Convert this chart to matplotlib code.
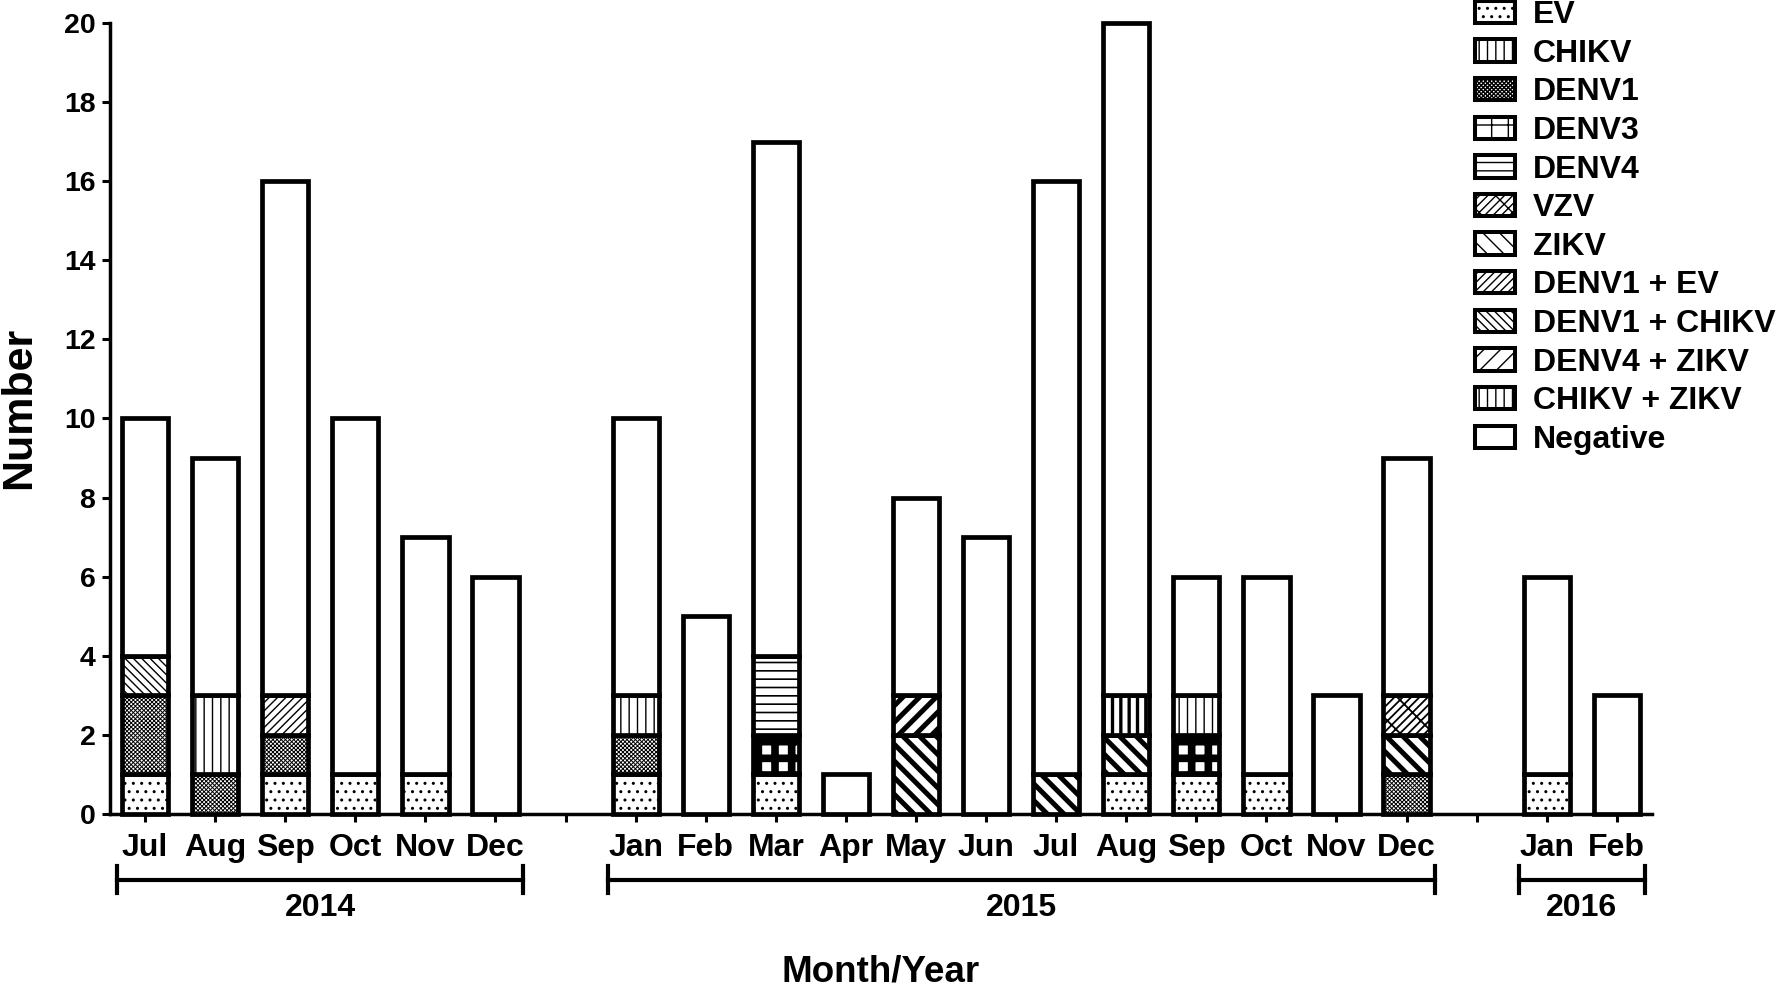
import numpy as np
import matplotlib
matplotlib.use('Agg')
import matplotlib.pyplot as plt
from matplotlib.patches import Patch

# month labels and the year each month belongs to
months = ['Jul', 'Aug', 'Sep', 'Oct', 'Nov', 'Dec',
	'Jan', 'Feb', 'Mar', 'Apr', 'May', 'Jun', 'Jul', 'Aug', 'Sep', 'Oct', 'Nov', 'Dec',
	'Jan', 'Feb']
years = [2014] * 6 + [2015] * 12 + [2016] * 2

# counts per month for every result (20 months)
ev          = [1, 0, 1, 1, 1, 0,  1, 0, 1, 0, 0, 0, 0, 1, 1, 1, 0, 0,  1, 0]
denv1       = [2, 1, 1, 0, 0, 0,  1, 0, 0, 0, 0, 0, 0, 0, 0, 0, 0, 1,  0, 0]
denv3       = [0, 0, 0, 0, 0, 0,  0, 0, 1, 0, 0, 0, 0, 0, 1, 0, 0, 0,  0, 0]
zikv        = [0, 0, 0, 0, 0, 0,  0, 0, 0, 0, 2, 0, 1, 1, 0, 0, 0, 1,  0, 0]
chikv       = [0, 2, 0, 0, 0, 0,  1, 0, 0, 0, 0, 0, 0, 0, 1, 0, 0, 0,  0, 0]
denv4       = [0, 0, 0, 0, 0, 0,  0, 0, 2, 0, 0, 0, 0, 0, 0, 0, 0, 0,  0, 0]
vzv         = [0, 0, 0, 0, 0, 0,  0, 0, 0, 0, 0, 0, 0, 0, 0, 0, 0, 1,  0, 0]
denv1_ev    = [0, 0, 1, 0, 0, 0,  0, 0, 0, 0, 0, 0, 0, 0, 0, 0, 0, 0,  0, 0]
denv1_chikv = [1, 0, 0, 0, 0, 0,  0, 0, 0, 0, 0, 0, 0, 0, 0, 0, 0, 0,  0, 0]
denv4_zikv  = [0, 0, 0, 0, 0, 0,  0, 0, 0, 0, 1, 0, 0, 0, 0, 0, 0, 0,  0, 0]
chikv_zikv  = [0, 0, 0, 0, 0, 0,  0, 0, 0, 0, 0, 0, 0, 1, 0, 0, 0, 0,  0, 0]
negative    = [6, 6, 13, 9, 6, 6,  7, 5, 13, 1, 5, 7, 15, 17, 3, 5, 3, 6,  5, 3]

legend_order = ['EV', 'CHIKV', 'DENV1', 'DENV3', 'DENV4', 'VZV', 'ZIKV',
	'DENV1 + EV', 'DENV1 + CHIKV', 'DENV4 + ZIKV', 'CHIKV + ZIKV', 'Negative']


def main():
	plt.rcParams['font.family'] = ['Liberation Sans', 'DejaVu Sans']
	plt.rcParams['font.weight'] = 'bold'

	# stacking order bottom -> top, with hatch and hatch line width
	# (diagonal hatches are half as dense as | and - for the same count)
	series = [
		('EV', ev, '..', 1.0),
		('DENV1', denv1, 'xxxxxxxx', 0.7),
		('DENV3', denv3, '+', 5.5),
		('ZIKV', zikv, '\\\\', 3.6),
		('CHIKV', chikv, '||', 1.0),
		('DENV4', denv4, '--', 1.2),
		('VZV', vzv, '////\\', 1.3),
		('DENV1 + EV', denv1_ev, '////', 1.0),
		('DENV1 + CHIKV', denv1_chikv, '\\\\\\\\', 1.0),
		('DENV4 + ZIKV', denv4_zikv, '//', 3.6),
		('CHIKV + ZIKV', chikv_zikv, '||', 2.4),
		('Negative', negative, '', 1.0),
	]

	# one empty slot between years
	x = np.arange(len(months)) + (np.array(years) - 2014)

	fig = plt.figure(figsize=(17.8, 9.91), dpi=100)
	ax = fig.add_axes([0.0618, 0.1786, 0.928 - 0.0618, 0.9768 - 0.1786])

	bottom = np.zeros(len(months))
	handles = {}
	for name, vals, hatch, hlw in series:
		vals = np.array(vals, dtype=float)
		keep = vals > 0
		with plt.rc_context({'hatch.linewidth': hlw}):
			bars = ax.bar(x[keep], vals[keep], bottom=bottom[keep], width=0.66,
				color='white', edgecolor='black', linewidth=3.4, hatch=hatch,
				clip_on=False, zorder=3)
			for b in bars:
				if hasattr(b, 'set_hatch_linewidth'):
					b.set_hatch_linewidth(hlw)
			h = Patch(facecolor='white', edgecolor='black', linewidth=2.9, hatch=hatch)
			if hasattr(h, 'set_hatch_linewidth'):
				h.set_hatch_linewidth(hlw)
		handles[name] = h
		bottom = bottom + vals

	ax.set_xlim(-0.5, 21.5)
	ax.set_ylim(0, 20)
	ax.set_yticks(np.arange(0, 21, 2))

	# ticks on every slot, labels only on months
	ticks = np.arange(0, x.max() + 1)
	labels = [''] * len(ticks)
	for xi, m in zip(x, months):
		labels[xi] = m
	ax.set_xticks(ticks)
	ax.set_xticklabels(labels)

	for s in ['top', 'right']:
		ax.spines[s].set_visible(False)
	for s in ['left', 'bottom']:
		ax.spines[s].set_linewidth(2.5)
	ax.tick_params(axis='both', width=2.2, length=5.5)
	ax.tick_params(axis='x', pad=8, labelsize=23)
	ax.tick_params(axis='y', pad=5, labelsize=20.5)

	ax.set_ylabel('Number', fontsize=31, fontweight='bold', labelpad=18, y=0.513)
	ax.text(0.5, -0.2, 'Month/Year', transform=ax.transAxes, ha='center', va='center',
		fontsize=26.5, fontweight='bold')

	# year brackets under the month labels
	tr = ax.get_xaxis_transform()
	for yr in [2014, 2015, 2016]:
		xs = x[np.array(years) == yr]
		x0 = xs.min() - 0.4
		x1 = xs.max() + 0.4
		ax.plot([x0, x1], [-0.083, -0.083], color='black', lw=3, transform=tr, clip_on=False)
		ax.plot([x0, x0], [-0.066, -0.1], color='black', lw=3, transform=tr, clip_on=False)
		ax.plot([x1, x1], [-0.066, -0.1], color='black', lw=3, transform=tr, clip_on=False)
		ax.text((x0 + x1) / 2, -0.119, str(yr), transform=tr, ha='center', va='center',
			fontsize=23, fontweight='bold')

	fig.legend([handles[n] for n in legend_order], legend_order,
		loc='upper left', bbox_to_anchor=(0.8287, 1.0), frameon=False,
		prop={'size': 23, 'weight': 'bold'}, borderpad=0, borderaxespad=0,
		handlelength=1.25, handleheight=0.7, handletextpad=0.55, labelspacing=0.27)

	fig.savefig('out.png', dpi=100)


if __name__ == '__main__':
	main()
